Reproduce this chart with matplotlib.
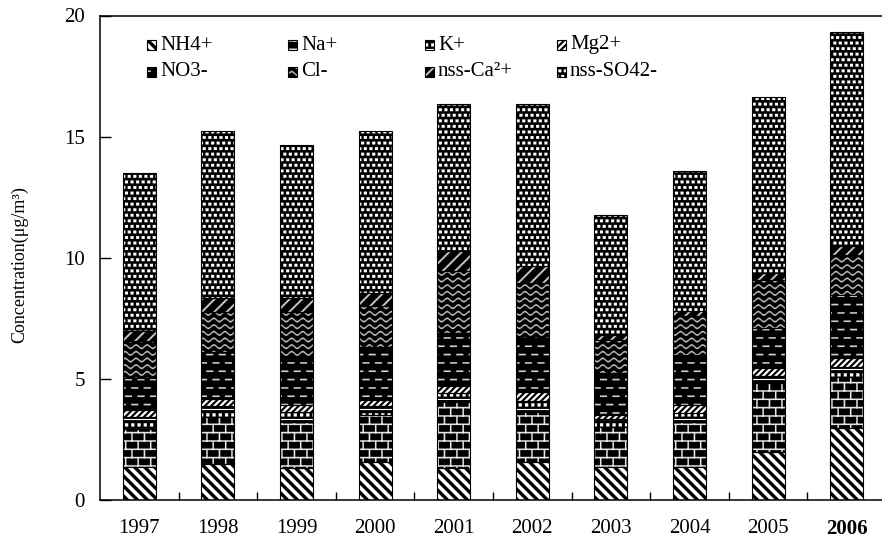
import numpy as np
import matplotlib
matplotlib.use("Agg")
import matplotlib.pyplot as plt
import matplotlib.hatch as mhatch
from matplotlib.path import Path
from matplotlib.patches import Rectangle

# ---------------- data ----------------
years = ["1997", "1998", "1999", "2000", "2001", "2002", "2003", "2004", "2005", "2006"]
series_names = ["NH4+", "Na+", "K+", "Mg2+", "NO3-", "Cl-", "nss-Ca²+", "nss-SO42-"]
nh4 = [1.37, 1.47, 1.31, 1.58, 1.31, 1.58, 1.38, 1.38, 2.00, 2.96]
na = [1.56, 1.97, 1.93, 1.93, 2.75, 2.07, 1.65, 1.86, 2.82, 2.11]
k = [0.50, 0.44, 0.41, 0.37, 0.35, 0.45, 0.30, 0.34, 0.30, 0.41]
mg = [0.30, 0.28, 0.28, 0.25, 0.30, 0.34, 0.18, 0.35, 0.32, 0.37]
no3 = [1.32, 1.94, 1.99, 2.17, 2.18, 2.24, 1.75, 2.06, 1.65, 2.62]
cl = [1.51, 1.64, 1.86, 1.72, 2.55, 2.27, 1.35, 1.59, 2.00, 1.65]
ca = [0.41, 0.59, 0.55, 0.52, 0.82, 0.69, 0.21, 0.24, 0.28, 0.35]
so4 = [6.53, 6.89, 6.34, 6.68, 6.07, 6.72, 4.96, 5.75, 7.25, 8.84]
y_ticks = [0, 5, 10, 15, 20]

# ---------------- custom hatch patterns (polygons in a 100px tile) ----------------
def rect(x, y, w, h):
    return [(x, y), (x + w, y), (x + w, y + h), (x, y + h)]

def diag(s, w, forward=True):
    polys = []
    n = int(round(100 / s))
    for i in range(-n - 2, n + 2):
        x0 = i * s
        if forward:   # "/"
            polys.append([(x0, 0), (x0 + w, 0), (x0 + w + 100, 100), (x0 + 100, 100)])
        else:         # "\"
            polys.append([(x0, 100), (x0 + w, 100), (x0 + w + 100, 0), (x0 + 100, 0)])
    return polys

def brick():
    polys = []
    rows, cols = 12, 8
    h, w, t = 100 / rows, 100 / cols, 1.4
    for r in range(rows + 1):
        polys.append(rect(-1, r * h, 102, t))
        off = (r % 2) * w / 2
        for c in range(-1, cols + 1):
            polys.append(rect(c * w + off, r * h, t, h))
    return polys

def kpat():
    polys = []
    rows, cols = 10, 16
    h, w = 100 / rows, 100 / cols
    for r in range(rows):
        polys.append(rect(-1, r * h, 102, 1.0))
        for c in range(cols):
            polys.append(rect(c * w, r * h + 3.5, w / 2, 3.2))
    return polys

def dashes():
    polys = []
    rows, cols = 12, 8
    h, w = 100 / rows, 100 / cols
    for r in range(rows):
        off = (r % 2) * w / 2
        for c in range(-1, cols + 1):
            polys.append(rect(c * w + off, r * h + 3, 7, 1.5))
    return polys

def waves():
    polys = []
    rows, per = 15, 9
    h, lam = 100 / rows, 100 / per
    xs = np.linspace(-3, 103, 160)
    for r in range(-1, rows + 1):
        yc = r * h + 1.7 * np.sin(2 * np.pi * xs / lam)
        up = list(zip(xs, yc + 0.8))
        lo = list(zip(xs[::-1], (yc - 0.8)[::-1]))
        polys.append(up + lo)
    return polys

def dots():
    polys = []
    n = 18
    s = 100 / n
    for r in range(-1, n + 1):
        off = (r % 2) * s / 2
        for c in range(-1, n + 1):
            polys.append(rect(c * s + off, r * s, 3.0, 2.8))
    return polys

PATTERNS = {
    "\\": diag(10, 5, forward=False),
    "+": brick(),
    "x": kpat(),
    "/": diag(6.25, 3, forward=True),
    "-": dashes(),
    "o": waves(),
    "O": diag(12.5, 2.5, forward=True),
    ".": dots(),
}
PATTERNS = {ch: [np.asarray(p, float) / 100.0 for p in ps] for ch, ps in PATTERNS.items()}


class PolyHatch(mhatch.HatchPatternBase):
    def __init__(self, hatch, density):
        self.active = []
        for ch, ps in PATTERNS.items():
            if ch in hatch:
                self.active.extend(ps)
        self.num_vertices = sum(len(p) + 1 for p in self.active)

    def set_vertices_and_codes(self, vertices, codes):
        i = 0
        for p in self.active:
            n = len(p)
            vertices[i:i + n] = p
            vertices[i + n] = p[0]
            codes[i] = Path.MOVETO
            codes[i + 1:i + n] = Path.LINETO
            codes[i + n] = Path.CLOSEPOLY
            i += n + 1


mhatch._hatch_types[:] = [PolyHatch]

# ---------------- plotting ----------------
plt.rcParams["font.family"] = ["Liberation Serif", "DejaVu Serif"]
plt.rcParams["hatch.linewidth"] = 0.1

styles = [  # (hatch char, hatch colour)
    ("\\", "white"),
    ("+", "#e6e6e6"),
    ("x", "white"),
    ("/", "white"),
    ("-", "#d0d0d0"),
    ("o", "#bdbdbd"),
    ("O", "#c8c8c8"),
    (".", "white"),
]
data = [nh4, na, k, mg, no3, cl, ca, so4]

fig = plt.figure(figsize=(8.82, 5.47), dpi=100)
ax = fig.add_axes([100 / 882, 47 / 547, 786 / 882, 484.5 / 547])

x = np.arange(len(years))
width = 0.42
bottom = np.zeros(len(years))
for vals, (ch, hc) in zip(data, styles):
    vals = np.asarray(vals)
    ax.bar(x, vals, width, bottom=bottom, color="black", edgecolor=hc,
           linewidth=0, hatch=ch, zorder=2)
    ax.bar(x, vals, width, bottom=bottom, facecolor="none", edgecolor="black",
           linewidth=0.8, zorder=3)
    bottom += vals

ax.set_xlim(-0.5, len(years) - 0.5)
ax.set_ylim(0, 20)
ax.set_yticks(y_ticks)
ax.set_yticklabels([str(v) for v in y_ticks])
ax.set_xticks(x)
ax.set_xticklabels(years)
ax.set_xticks(np.arange(len(years) - 1) + 0.5, minor=True)
ax.tick_params(axis="x", which="major", length=0, pad=14, labelsize=15)
ax.tick_params(axis="x", which="minor", direction="in", length=6, width=1)
ax.tick_params(axis="y", direction="in", length=8, width=1, pad=11, labelsize=15)
for lab in ax.get_xticklabels():
    if lab.get_text() == "2006":
        lab.set_fontweight("bold")
for sp in ["left", "bottom", "top"]:
    ax.spines[sp].set_linewidth(1.1)
ax.spines["right"].set_visible(False)

fig.text(20 / 882, 1 - 265 / 547, "Concentration(μg/m³)", rotation=90,
         ha="center", va="center", fontsize=13)

# manual legend in grid layout (2 rows x 4 columns)
col_x = [147, 288, 425, 557]
row_y = [45, 72]
msz = 9
for i, (name, (ch, hc)) in enumerate(zip(series_names, styles)):
    r, c = divmod(i, 4)
    px, py = col_x[c], row_y[r]
    fx, fy = px / 882, 1 - (py + msz / 2) / 547
    fw, fh = msz / 882, msz / 547
    fig.patches.append(Rectangle((fx, fy), fw, fh, transform=fig.transFigure,
                                 facecolor="black", edgecolor=hc, linewidth=0,
                                 hatch=ch, zorder=5))
    fig.patches.append(Rectangle((fx, fy), fw, fh, transform=fig.transFigure,
                                 facecolor="none", edgecolor="black", linewidth=0.8,
                                 zorder=6))
    fig.text((px + msz + 4) / 882, 1 - py / 547, name, ha="left", va="center",
             fontsize=15)

fig.savefig("out.png", dpi=100)
